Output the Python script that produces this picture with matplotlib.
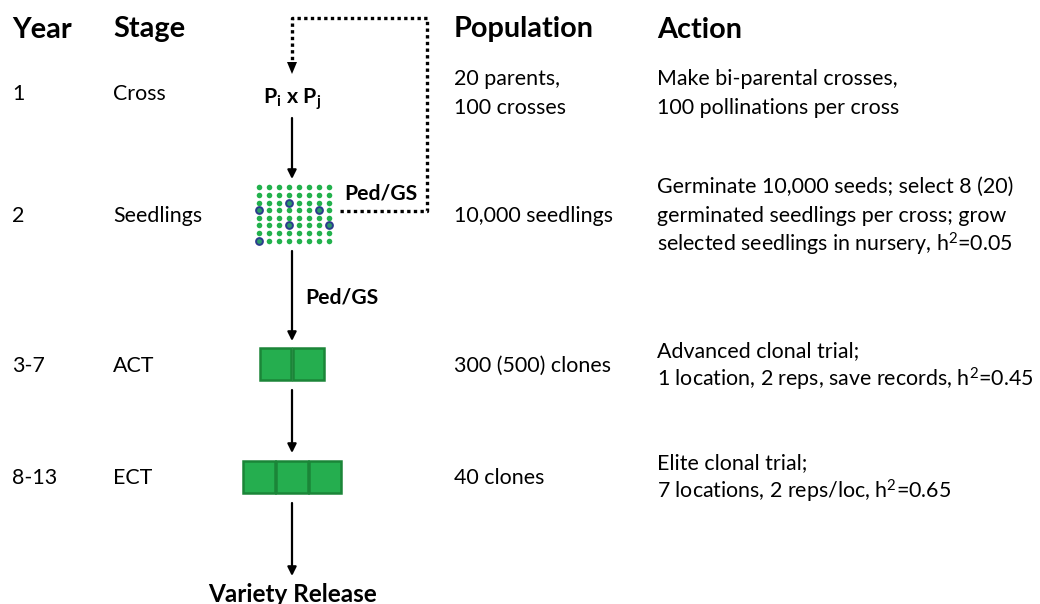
import matplotlib
matplotlib.use("Agg")
import matplotlib.pyplot as plt
from matplotlib.patches import Rectangle, Polygon

# ---------------- data ----------------
headers = ["Year", "Stage", "Population", "Action"]
years = ["1", "2", "3-7", "8-13"]
stages = ["Cross", "Seedlings", "ACT", "ECT"]
populations = [["20 parents,", "100 crosses"],
               ["10,000 seedlings"],
               ["300 (500) clones"],
               ["40 clones"]]
actions = [["Make bi-parental crosses,", "100 pollinations per cross"],
           ["Germinate 10,000 seeds; select 8 (20)",
            "germinated seedlings per cross; grow",
            "selected seedlings in nursery, h$^2$=0.05"],
           ["Advanced clonal trial;", "1 location, 2 reps, save records, h$^2$=0.45"],
           ["Elite clonal trial;", "7 locations, 2 reps/loc, h$^2$=0.65"]]
cross_label = r"$\mathbf{P_i}$ $\mathbf{x}$ $\mathbf{P_j}$"
selection_label = "Ped/GS"
final_label = "Variety Release"
grid_rows, grid_cols = 8, 8
selected_cells = [(2, 3), (3, 0), (3, 6), (5, 3), (5, 7), (7, 0)]  # (row, col)
act_plots = 2
ect_plots = 3

# ---------------- styling ----------------
plt.rcParams['font.family'] = ['Lato', 'DejaVu Sans']
plt.rcParams['mathtext.fontset'] = 'custom'
plt.rcParams['mathtext.rm'] = 'Lato'
plt.rcParams['mathtext.bf'] = 'Lato:bold'
plt.rcParams['mathtext.it'] = 'Lato:italic'
plt.rcParams['mathtext.default'] = 'regular'

W, H = 1040, 604
fig = plt.figure(figsize=(W / 100, H / 100), dpi=100)
ax = fig.add_axes([0, 0, 1, 1])
ax.set_xlim(0, W)
ax.set_ylim(H, 0)
ax.axis('off')

HFS = 20.8   # header font size
BFS = 15.4   # body font size
col_x = [12, 113, 454, 657]
row_y = [93.5, 215.5, 365.5, 477.5]
line_h = 28.7

for x, h in zip(col_x, headers):
    ax.text(x, 29.5, h, fontsize=HFS, fontweight='bold', ha='left', va='center')

for i in range(4):
    ax.text(col_x[0], row_y[i], years[i], fontsize=BFS, ha='left', va='center')
    ax.text(col_x[1], row_y[i], stages[i], fontsize=BFS, ha='left', va='center')
    for lines, x in ((populations[i], col_x[2]), (actions[i], col_x[3])):
        n = len(lines)
        for k, s in enumerate(lines):
            y = row_y[i] + (k - (n - 1) / 2) * line_h
            ax.text(x, y, s, fontsize=BFS, ha='left', va='center')

cx = 292
# cross label
ax.text(cx, 99, cross_label, fontsize=15.4, ha='center', va='center')

# arrows
def arrow(y0, y1):
    ax.annotate("", xy=(cx, y1), xytext=(cx, y0),
                arrowprops=dict(arrowstyle='-|>', lw=1.6, color='black',
                                mutation_scale=13, shrinkA=0, shrinkB=0))

arrow(118, 179)
arrow(251, 341)
arrow(390, 453)
arrow(503, 576)

# seedling dot grid
gx0, gdx = 258.5, 10.1
gy0, gdy = 187.3, 7.6
sel = set(selected_cells)
gxs, gys, bxs, bys = [], [], [], []
for r in range(grid_rows):
    for c in range(grid_cols):
        x = gx0 + c * gdx
        y = gy0 + r * gdy
        if (r, c) in sel:
            bxs.append(x); bys.append(y)
        else:
            gxs.append(x); gys.append(y)
ax.scatter(gxs, gys, s=16, color='#22b14c', linewidths=0, zorder=3)
ax.scatter(bxs, bys, s=24, facecolor='#2a9a6a', edgecolor='#2b3c8c',
           linewidths=1.4, zorder=3)

# Ped/GS labels
ax.text(344, 193, selection_label, fontsize=15.2, fontweight='bold', ha='left', va='center')
ax.text(305, 297, selection_label, fontsize=15.2, fontweight='bold', ha='left', va='center')

# dotted feedback loop
path_x = [340, 427, 427, cx, cx]
path_y = [211, 211, 18, 18, 63]
ax.plot(path_x, path_y, color='black', lw=2.4, linestyle=(0, (1, 1.0)),
        solid_capstyle='butt', dash_capstyle='butt', solid_joinstyle='miter')
ax.add_patch(Polygon([(cx - 5, 62), (cx + 5, 62), (cx, 74)], closed=True,
                     color='black', lw=0))

# plot boxes
def boxes(n, y0, y1, size):
    total = n * size
    x0 = cx - total / 2
    for k in range(n):
        ax.add_patch(Rectangle((x0 + k * size + 0.8, y0), size - 1.6, y1 - y0,
                               facecolor='#25ae4f', edgecolor='#1b8538', lw=1.8))

boxes(act_plots, 348, 380, 32.5)
boxes(ect_plots, 461, 492.5, 33)

ax.text(cx + 1, 594, final_label, fontsize=17.5, fontweight='bold',
        ha='center', va='center')

fig.savefig("out.png", dpi=100)
